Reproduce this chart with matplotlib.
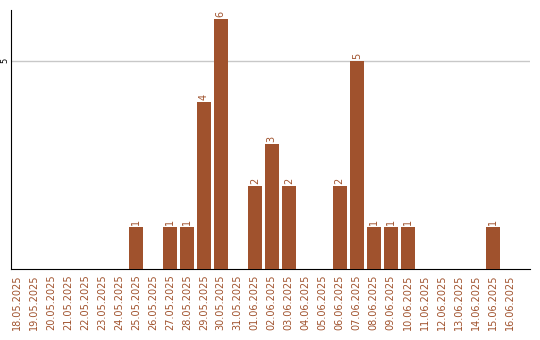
import matplotlib
matplotlib.use("Agg")
import matplotlib.pyplot as plt
import numpy as np

days = ["18.05.2025", "19.05.2025", "20.05.2025", "21.05.2025", "22.05.2025",
        "23.05.2025", "24.05.2025", "25.05.2025", "26.05.2025", "27.05.2025",
        "28.05.2025", "29.05.2025", "30.05.2025", "31.05.2025", "01.06.2025",
        "02.06.2025", "03.06.2025", "04.06.2025", "05.06.2025", "06.06.2025",
        "07.06.2025", "08.06.2025", "09.06.2025", "10.06.2025", "11.06.2025",
        "12.06.2025", "13.06.2025", "14.06.2025", "15.06.2025", "16.06.2025"]
counts = [0, 0, 0, 0, 0, 0, 0, 1, 0, 1,
          1, 4, 6, 0, 2, 3, 2, 0, 0, 2,
          5, 1, 1, 1, 0, 0, 0, 0, 1, 0]

brown = "#a0522d"

fig = plt.figure(figsize=(5.4, 3.4), dpi=100)
ax = fig.add_axes([11 / 540, 71 / 340, 519 / 540, 259 / 340])

x = np.arange(len(days))
ax.bar(x, counts, width=0.82, color=brown, zorder=3)
for xi, c in zip(x, counts):
    if c > 0:
        ax.text(xi, c + 0.05, str(c), rotation=90, ha="center", va="bottom",
                fontsize=7, color=brown)

ax.set_xlim(-0.35, 30.2)
ax.set_ylim(0, 6.22)
ax.set_yticks([5])
ax.set_yticklabels(["5"], rotation=90, va="center", fontsize=6)
ax.yaxis.grid(True, color="#c8c8c8", linewidth=1, zorder=0)
ax.tick_params(axis="y", length=0, pad=1)
ax.set_xticks(x)
ax.set_xticklabels(days, rotation=90, fontsize=7, color=brown)
ax.tick_params(axis="x", length=0, pad=4)
for s in ["top", "right"]:
    ax.spines[s].set_visible(False)
ax.spines["left"].set_color("black")
ax.spines["bottom"].set_color("black")

fig.savefig("out.png", dpi=100)
